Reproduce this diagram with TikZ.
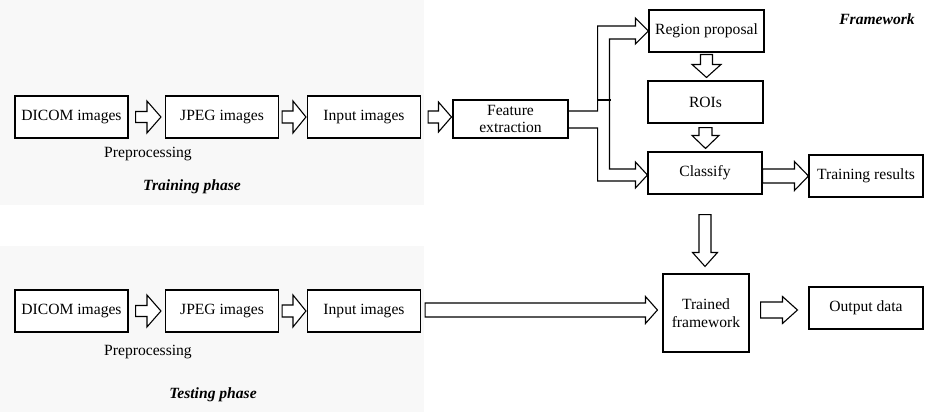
\documentclass[tikz,border=0pt]{standalone}
\usepackage{fontspec}
\setmainfont{Liberation Serif}
\usetikzlibrary{calc}
\definecolor{panelgray}{RGB}{248,248,248}
\newcommand{\hblock}[5]{%
  \draw[blockarrow] let \p1=(#1), \p2=(#2) in
    (\x1,\y1+#3) -- (\x2-#5,\y1+#3) -- (\x2-#5,\y1+#4) -- (\x2,\y1)
    -- (\x2-#5,\y1-#4) -- (\x2-#5,\y1-#3) -- (\x1,\y1-#3) -- cycle;}
\newcommand{\vblock}[5]{%
  \draw[blockarrow] let \p1=(#1), \p2=(#2) in
    (\x1-#3,\y1) -- (\x1-#3,\y2+#5) -- (\x1-#4,\y2+#5) -- (\x1,\y2)
    -- (\x1+#4,\y2+#5) -- (\x1+#3,\y2+#5) -- (\x1+#3,\y1) -- cycle;}
\begin{document}
\begin{tikzpicture}[x=1pt, y=-1pt,
  box/.style={draw, line width=1.1pt, fill=white, inner sep=0pt, align=center,
    minimum width=113pt, minimum height=42pt, font=\fontsize{15.6}{17.5}\selectfont},
  blockarrow/.style={draw, line width=1.1pt, fill=white, line join=miter},
  lbl/.style={font=\fontsize{15.6}{17.5}\selectfont},
  phase/.style={font=\fontsize{15.6}{17.5}\selectfont\bfseries\itshape}]
  \useasboundingbox (0,0) rectangle (936,412);
  \fill[panelgray] (0,0) rectangle (424,205);
  \fill[panelgray] (0,246) rectangle (424,412);

  \node[box] (dicom1) at (71.5,117) {DICOM images};
  \node[box] (jpeg1) at (222,117) {JPEG images};
  \node[box] (input1) at (364,117) {Input images};
  \node[box, minimum width=115pt, minimum height=38pt] (feature) at (510.5,119) {Feature\\extraction};
  \node[box, minimum width=115pt] (region) at (706.5,31) {Region proposal};
  \node[box, minimum width=115pt] (rois) at (705.5,102) {ROIs};
  \node[box, minimum width=114pt] (classify) at (705,173) {Classify};
  \node[box, minimum width=114pt] (results) at (866,176) {Training results};
  \node[lbl] (prep1) at (148,154) {Preprocessing};
  \node[phase] (train) at (192,187) {Training phase};
  \node[phase] (frame) at (877,19) {Framework};

  \node[box] (dicom2) at (71.5,311) {DICOM images};
  \node[box] (jpeg2) at (222,311) {JPEG images};
  \node[box] (input2) at (364,311) {Input images};
  \node[box, minimum width=86pt, minimum height=78pt] (trained) at (706,313) {Trained\\framework};
  \node[box, minimum width=114pt] (output) at (866,308) {Output data};
  \node[lbl] (prep2) at (148,352) {Preprocessing};
  \node[phase] (test) at (213,395) {Testing phase};

  \hblock{$(dicom1.east)+(7,0)$}{$(jpeg1.west)+(-4,0)$}{5.5pt}{16pt}{14pt}
  \hblock{$(jpeg1.east)+(3,0)$}{$(input1.west)+(-1,0)$}{6pt}{16pt}{13pt}
  \hblock{$(input1.east)+(7,0)$}{$(feature.west)+(-1,-2)$}{6pt}{15pt}{13pt}
  \hblock{$(dicom2.east)+(7,0)$}{$(jpeg2.west)+(-4,0)$}{5.5pt}{16pt}{14pt}
  \hblock{$(jpeg2.east)+(3,0)$}{$(input2.west)+(-1,0)$}{6pt}{16pt}{13pt}
  \hblock{$(input2.east)+(4,-1)$}{$(trained.west)+(-5,-3)$}{7pt}{13.5pt}{12pt}
  \hblock{$(classify.east)+(0,3)$}{results.west}{7pt}{14.5pt}{14pt}
  \hblock{$(trained.east)+(11,-3)$}{$(output.west)+(-11,2)$}{8pt}{13.5pt}{15pt}
  \vblock{$(region.south)+(0,2)$}{$(rois.north)+(0,-3)$}{6pt}{14.5pt}{13pt}
  \vblock{$(rois.south)+(0,4)$}{$(classify.north)+(0,-3)$}{6.5pt}{13.5pt}{13pt}
  \vblock{$(classify.south)+(0,20)$}{$(trained.north)+(0,-7)$}{6pt}{12.5pt}{14pt}

  \coordinate (split) at ($(feature.east)+(29,0)$);
  \draw[blockarrow, fill=none] ($(feature.east)+(0,-8)$) -| ($(split)+(0,-93)$)
    -- ($(region.west)+(-13,-5)$) -- ($(region.west)+(-13,-13)$) -- (region.west)
    -- ($(region.west)+(-13,13)$) -- ($(region.west)+(-13,8)$)
    -| ($(classify.west)+(-38,-4)$) -- ($(classify.west)+(-12,-4)$)
    -- ($(classify.west)+(-12,-11)$) -- ($(classify.west)+(0,2)$)
    -- ($(classify.west)+(-12,15)$) -- ($(classify.west)+(-12,8)$)
    -| ($(feature.east)+(29,9)$) -- ($(feature.east)+(0,9)$);
  \draw[line width=1.1pt] ($(split)+(0,-19)$) -- ++(13,0);
\end{tikzpicture}
\end{document}
